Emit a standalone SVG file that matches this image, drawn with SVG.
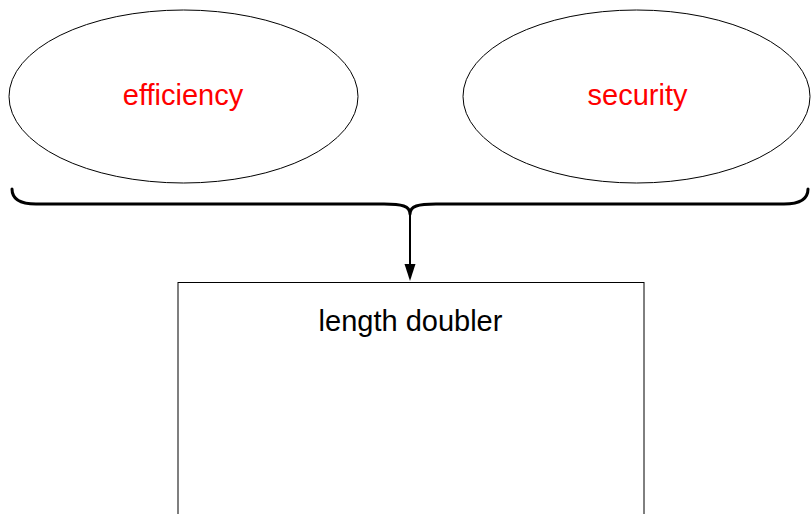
<svg xmlns="http://www.w3.org/2000/svg" width="811" height="514" viewBox="0 0 811 514">
  <style>
    .shape { fill: #ffffff; stroke: #000000; stroke-width: 1; }
    .goal { font-family: "Liberation Sans", Arial, sans-serif; font-size: 29px; fill: #ff0000; text-anchor: middle; }
    .title { font-family: "Liberation Sans", Arial, sans-serif; font-size: 29px; fill: #000000; text-anchor: middle; }
    .brace { fill: none; stroke: #000000; stroke-width: 3; stroke-linecap: round; }
    .stem { fill: none; stroke: #000000; stroke-width: 2; }
  </style>
  <rect width="811" height="514" fill="#ffffff"/>

  <g id="efficiency">
    <ellipse class="shape" cx="183.5" cy="96.5" rx="174.5" ry="86.5"/>
    <text class="goal" x="183" y="105">efficiency</text>
  </g>

  <g id="security">
    <ellipse class="shape" cx="636.5" cy="96.5" rx="173.5" ry="86.5"/>
    <text class="goal" x="637.5" y="105">security</text>
  </g>

  <g id="length-doubler">
    <rect class="shape" x="178" y="282.5" width="466" height="240"/>
    <text class="title" x="410.5" y="331">length doubler</text>
  </g>

  <g id="connectors">
    <!-- curly brace gathering both goals -->
    <path class="brace" d="M12,189 Q12,204 36,204 L384,204 C402,204 410,206 410,214 M436,204 C418,204 410,206 410,214 M436,204 L784,204 Q808,204 808,189"/>
    <!-- arrow down into the box -->
    <path class="stem" d="M410,214 L410,266"/>
    <path d="M404.5,264 L415.5,264 L410,281 Z" fill="#000000"/>
  </g>
</svg>
